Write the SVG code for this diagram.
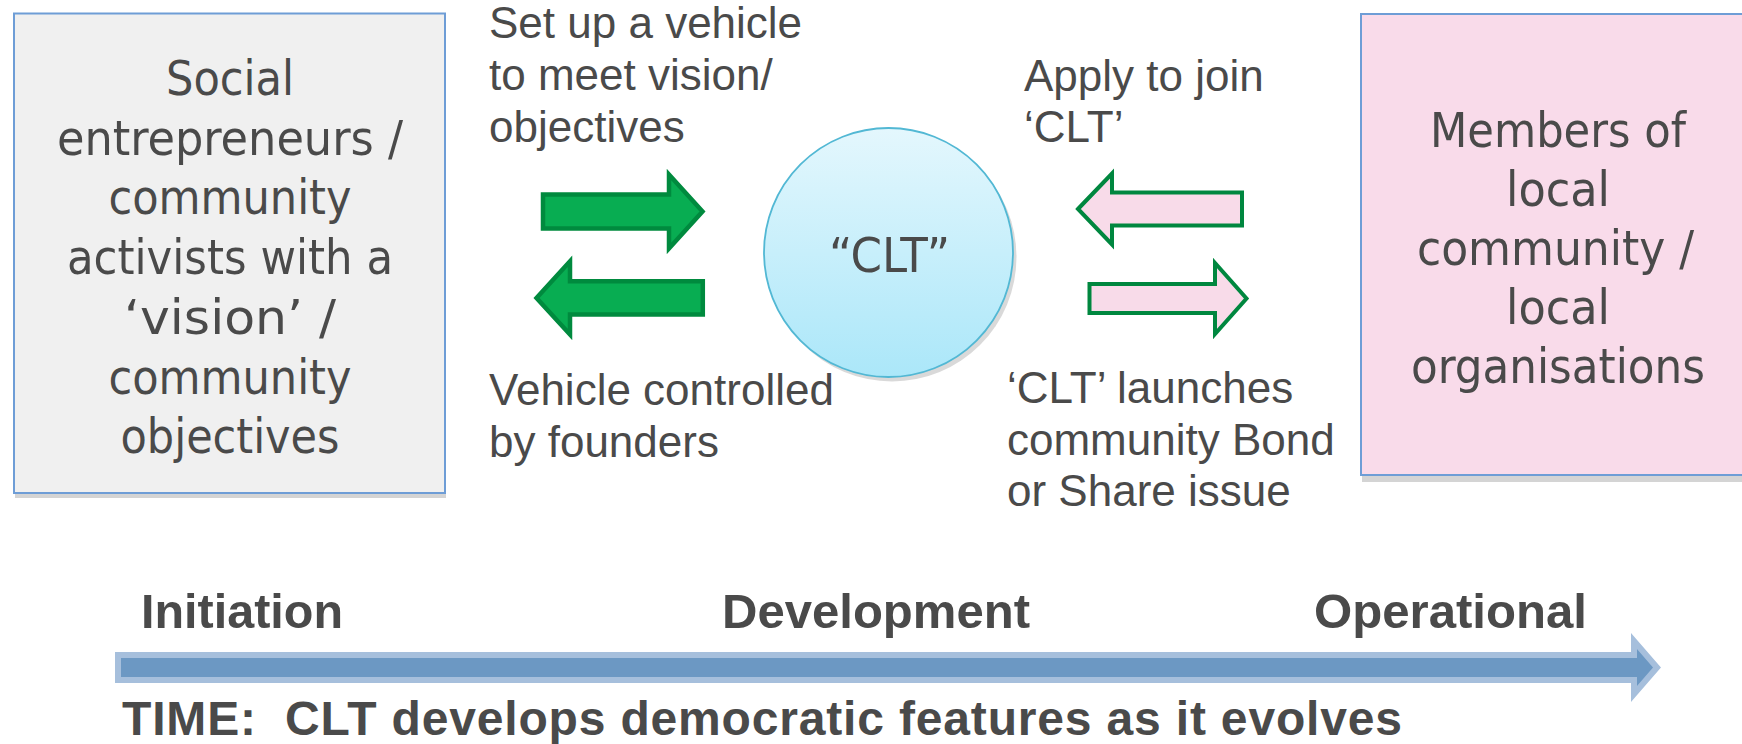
<svg xmlns="http://www.w3.org/2000/svg" width="1742" height="744" viewBox="0 0 1742 744">
<style>
.box-t{font-family:"DejaVu Sans Condensed","DejaVu Sans",sans-serif;font-stretch:condensed;font-size:48px;fill:#4a4a4a}
.lbl{font-family:"Liberation Sans",Arial,sans-serif;font-size:44px;fill:#4a4a4a}
.bold{font-family:"Liberation Sans",Arial,sans-serif;font-weight:bold;font-size:48px;fill:#4a4a4a}
.garrow{fill:#08ad52;stroke:#008a3e;stroke-width:4.5;stroke-linejoin:miter}
.parrow{fill:#f8dbe9;stroke:#00873f;stroke-width:4;stroke-linejoin:miter}
.shadow{fill:#d4d4d4}
</style>
<defs>
<linearGradient id="cg" x1="0" y1="0" x2="0" y2="1">
<stop offset="0" stop-color="#e4f7fd"/>
<stop offset="1" stop-color="#abe7f9"/>
</linearGradient>
</defs>
<rect width="1742" height="744" fill="#ffffff"/>

<g id="founders">
<rect class="shadow" x="15" y="18" width="431" height="480"/>
<rect x="14" y="13.5" width="431" height="479.5" fill="#f0f0f0" stroke="#6e9dd6" stroke-width="2"/>
<text class="box-t">
<tspan x="166" y="95" textLength="128" lengthAdjust="spacingAndGlyphs">Social</tspan>
<tspan x="57" y="154.7" textLength="346" lengthAdjust="spacingAndGlyphs">entrepreneurs /</tspan>
<tspan x="108.5" y="214.4" textLength="243" lengthAdjust="spacingAndGlyphs">community</tspan>
<tspan x="67" y="274" textLength="326" lengthAdjust="spacingAndGlyphs">activists with a</tspan>
<tspan x="124" y="333.8" textLength="212" lengthAdjust="spacingAndGlyphs">‘vision’ /</tspan>
<tspan x="108.5" y="393.5" textLength="243" lengthAdjust="spacingAndGlyphs">community</tspan>
<tspan x="120.5" y="453" textLength="219" lengthAdjust="spacingAndGlyphs">objectives</tspan>
</text>
</g>

<g id="members">
<rect class="shadow" x="1362" y="20" width="400" height="462"/>
<rect x="1361" y="14" width="400" height="461" fill="#f9dbea" stroke="#6e9dd6" stroke-width="2"/>
<text class="box-t">
<tspan x="1430" y="147" textLength="256" lengthAdjust="spacingAndGlyphs">Members of</tspan>
<tspan x="1506" y="206" textLength="104" lengthAdjust="spacingAndGlyphs">local</tspan>
<tspan x="1417" y="265" textLength="277" lengthAdjust="spacingAndGlyphs">community /</tspan>
<tspan x="1506" y="324" textLength="104" lengthAdjust="spacingAndGlyphs">local</tspan>
<tspan x="1411" y="383" textLength="294" lengthAdjust="spacingAndGlyphs">organisations</tspan>
</text>
</g>

<g id="clt">
<circle cx="892" cy="257" r="124.5" fill="#d0d0d0" opacity="0.8"/>
<circle cx="888.5" cy="252.5" r="124.5" fill="url(#cg)" stroke="#52b8d4" stroke-width="1.8"/>
<text class="box-t" x="829" y="272" font-size="50" textLength="121" lengthAdjust="spacingAndGlyphs">“CLT”</text>
</g>

<g id="connectors">
<polygon class="garrow" points="543,194.5 669,194.5 669,174.5 702.5,211.5 669,248.5 669,228.5 543,228.5"/>
<polygon class="garrow" points="536.5,298 570,261.3 570,281.3 702.8,281.3 702.8,314.5 570,314.5 570,334.5"/>
<polygon class="parrow" points="1078,209 1112,173.5 1112,192.5 1242,192.5 1242,225.5 1112,225.5 1112,244.5"/>
<polygon class="parrow" points="1089.5,284 1215,284 1215,263 1246.5,298.5 1215,334 1215,313 1089.5,313"/>
<polygon points="118,655 1634,655 1634,641 1657,667.5 1634,694 1634,680 118,680" fill="#6c98c3" stroke="#a6bfdc" stroke-width="6" stroke-linejoin="miter"/>
</g>

<g id="labels">
<text class="lbl"><tspan x="489" y="37.5">Set up a vehicle</tspan><tspan x="489" y="89.7">to meet vision/</tspan><tspan x="489" y="141.9">objectives</tspan></text>
<text class="lbl"><tspan x="489" y="405">Vehicle controlled</tspan><tspan x="489" y="456.7">by founders</tspan></text>
<text class="lbl"><tspan x="1024" y="90.5">Apply to join</tspan><tspan x="1024" y="142">‘CLT’</tspan></text>
<text class="lbl"><tspan x="1007" y="403">‘CLT’ launches</tspan><tspan x="1007" y="454.5">community Bond</tspan><tspan x="1007" y="506">or Share issue</tspan></text>
</g>

<g id="timeline">
<text class="bold" x="141" y="628" textLength="202" lengthAdjust="spacingAndGlyphs">Initiation</text>
<text class="bold" x="722" y="628" textLength="308" lengthAdjust="spacingAndGlyphs">Development</text>
<text class="bold" x="1314" y="628" textLength="273" lengthAdjust="spacingAndGlyphs">Operational</text>
<text class="bold" x="122" y="735" xml:space="preserve" textLength="1280" lengthAdjust="spacing">TIME:  CLT develops democratic features as it evolves</text>
</g>
</svg>
